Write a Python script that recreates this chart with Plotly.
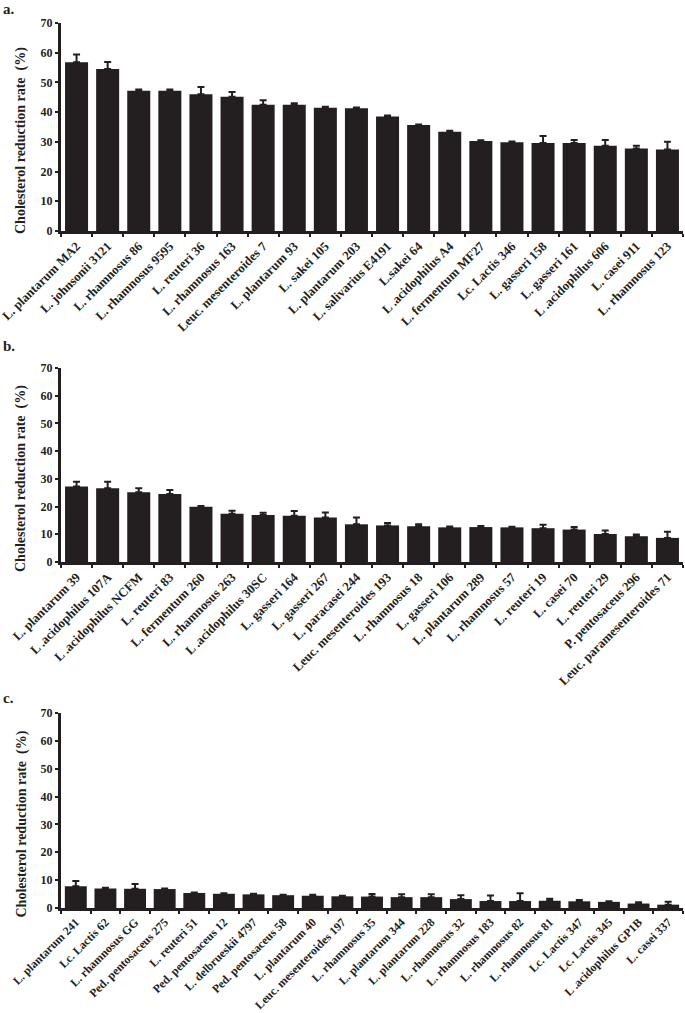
import plotly.graph_objects as go

# ---- Data ----
labels_a = ["L. plantarum MA2", "L. johnsonii 3121", "L. rhamnosus 86", "L. rhamnosus 9595",
            "L. reuteri 36", "L. rhamnosus 163", "Leuc. mesenteroides 7", "L. plantarum 93",
            "L. sakei 105", "L. plantarum 203", "L. salivarius E4191", "L.sakei 64",
            "L .acidophilus A4", "L. fermentum MF27", "Lc. Lactis 346", "L. gasseri 158",
            "L. gasseri 161", "L .acidophilus 606", "L. casei 911", "L. rhamnosus 123"]
values_a = [56.8, 54.5, 47.2, 47.2, 46.0, 45.2, 42.5, 42.5, 41.5, 41.3,
            38.5, 35.7, 33.4, 30.3, 29.9, 29.6, 29.6, 28.7, 27.8, 27.4]
errors_a = [2.6, 2.4, 0.4, 0.4, 2.5, 1.6, 1.5, 0.5, 0.3, 0.3,
            0.4, 0.1, 0.3, 0.2, 0.2, 2.4, 1.0, 1.9, 0.9, 2.6]

labels_b = ["L. plantarum 39", "L .acidophilus 107A", "L .acidophilus NCFM", "L. reuteri 83",
            "L. fermentum 260", "L. rhamnosus 263", "L .acidophilus 30SC", "L. gasseri 164",
            "L. gasseri 267", "L. paracasei 244", "Leuc. mesenteroides 193", "L. rhamnosus 18",
            "L. gasseri 106", "L. plantarum 289", "L. rhamnosus 57", "L. reuteri 19",
            "L. casei 70", "L. reuteri 29", "P. pentosaceus 296", "Leuc. paramesenteroides 71"]
values_b = [27.2, 26.6, 25.2, 24.5, 19.9, 17.4, 17.0, 16.7, 16.1, 13.6,
            13.2, 12.9, 12.5, 12.6, 12.5, 12.2, 11.7, 10.1, 9.3, 8.7]
errors_b = [1.8, 2.4, 1.4, 1.5, 0.3, 1.1, 0.8, 1.7, 1.8, 2.5,
            0.9, 0.7, 0.3, 0.4, 0.2, 1.2, 0.9, 1.3, 0.6, 2.2]

labels_c = ["L. plantarum 241", "Lc. Lactis 62", "L. rhamnosus GG", "Ped. pentosaceus 275",
            "L. reuteri 51", "Ped. pentosaceus 12", "L. delbrueskii 4797", "Ped. pentosaceus 58",
            "L. plantarum 40", "Leuc. mesenteroides 197", "L. rhamnosus 35", "L. plantarum 344",
            "L. plantarum 228", "L. rhamnosus 32", "L. rhamnosus 183", "L. rhamnosus 82",
            "L. rhamnosus 81", "Lc. Lactis 347", "Lc. Lactis 345", "L .acidophilus GP1B",
            "L. casei 337"]
values_c = [7.8, 7.0, 6.9, 6.8, 5.4, 5.1, 4.9, 4.6, 4.4, 4.2,
            4.1, 3.9, 3.9, 3.2, 2.5, 2.5, 2.6, 2.4, 2.2, 1.6, 1.2]
errors_c = [1.9, 0.3, 1.7, 0.2, 0.2, 0.2, 0.2, 0.2, 0.4, 0.2,
            0.9, 1.0, 1.0, 1.4, 2.0, 2.8, 0.7, 0.5, 0.2, 0.5, 1.0]

panel_letters = ["a.", "b.", "c."]
y_title = "Cholesterol reduction rate  (%)"

# ---- Layout geometry (pixels) ----
W, H = 685, 1013
FONT = "Liberation Serif"
DARK = "#231f20"
x0, x1 = 61, 683
panels = [
    # labels, values, errors, plot top px, plot bottom px, letter y px, x label font
    (labels_a, values_a, errors_a, 23, 231, 9, 12.8),
    (labels_b, values_b, errors_b, 368, 562, 346, 12.8),
    (labels_c, values_c, errors_c, 713, 908, 698, 11.8),
]

fig = go.Figure()
annotations = []
for i, (labs, vals, errs, ptop, pbot, ly, xfs) in enumerate(panels):
    n = i + 1
    xa = "x" if n == 1 else f"x{n}"
    ya = "y" if n == 1 else f"y{n}"
    fig.add_trace(go.Bar(
        x=labs, y=vals, xaxis=xa, yaxis=ya,
        marker=dict(color=DARK, line=dict(width=0)),
        error_y=dict(type="data", array=errs, arrayminus=[0] * len(errs), symmetric=False,
                     color=DARK, thickness=2, width=3.5),
        showlegend=False,
    ))
    dom_y = [1 - pbot / H, 1 - ptop / H]
    xkey = "xaxis" if n == 1 else f"xaxis{n}"
    ykey = "yaxis" if n == 1 else f"yaxis{n}"
    fig.layout[xkey] = dict(
        domain=[x0 / W, x1 / W], anchor=ya, type="category",
        range=[-0.5, len(labs) - 0.5],
        tickvals=labs, ticktext=["<b>" + s + "</b>" for s in labs],
        showline=True, linecolor=DARK, linewidth=2.5,
        ticks="outside", tickson="boundaries", ticklen=3, tickwidth=2, tickcolor=DARK,
        tickangle=-45, showgrid=False, zeroline=False, automargin=False,
        tickfont=dict(family=FONT, size=xfs, color=DARK),
    )
    fig.layout[ykey] = dict(
        domain=dom_y, anchor=xa, range=[0, 70], dtick=10,
        tickprefix="<b>", ticksuffix="</b>",
        showline=True, linecolor=DARK, linewidth=3,
        ticks="outside", ticklen=3, tickwidth=2, tickcolor=DARK,
        showgrid=False, zeroline=False, automargin=False,
        tickfont=dict(family=FONT, size=12, color=DARK),
    )
    annotations.append(dict(
        text="<b>" + y_title + "</b>", textangle=-90, xref="paper", yref="paper",
        x=21 / W, y=1 - ((ptop + pbot) / 2 + 14) / H, xanchor="center", yanchor="middle",
        showarrow=False, font=dict(family=FONT, size=14, color=DARK),
    ))
    annotations.append(dict(
        text="<b>" + panel_letters[i] + "</b>", xref="paper", yref="paper",
        x=1 / W, y=1 - ly / H, xanchor="left", yanchor="middle",
        showarrow=False, font=dict(family=FONT, size=15, color=DARK),
    ))

fig.update_layout(
    width=W, height=H, autosize=False,
    margin=dict(l=0, r=0, t=0, b=0),
    paper_bgcolor="white", plot_bgcolor="white",
    bargap=0.26, annotations=annotations,
)

fig.write_html("out.html", config={"displayModeBar": False},
               post_script="document.body.style.margin='0';")
